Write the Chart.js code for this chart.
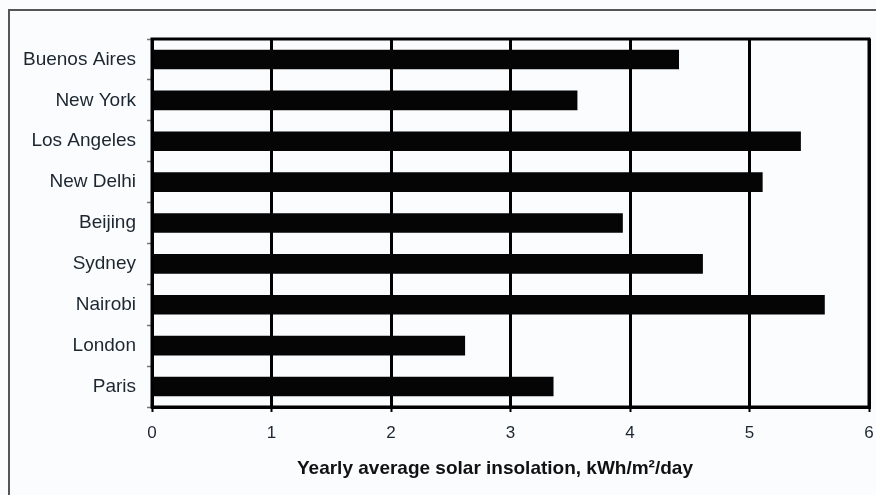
<!DOCTYPE html>
<html>
<head>
<meta charset="utf-8">
<script src="https://cdn.jsdelivr.net/npm/chart.js@4"></script>
<style>
  html, body { margin: 0; padding: 0; background: #fbfcfe; }
  #wrap { position: relative; width: 876px; height: 495px; }
  #frame { position: absolute; left: 8px; top: 9px; width: 900px; height: 600px; border-left: 2px solid #555; border-top: 2px solid #555; box-sizing: border-box; }
  canvas { position: absolute; left: 0; top: 0; }
</style>
</head>
<body>
<div id="wrap">
  <div id="frame"></div>
  <canvas id="c" width="876" height="495"></canvas>
</div>
<script>
const cities = ["Buenos Aires", "New York", "Los Angeles", "New Delhi", "Beijing", "Sydney", "Nairobi", "London", "Paris"];
const insolation = [4.41, 3.56, 5.43, 5.11, 3.94, 4.61, 5.63, 2.62, 3.36];
const xMin = 0;
const xMax = 6;
const xTitle = "Yearly average solar insolation, kWh/m\u00B2/day";

const FONT = 'Liberation Sans, Arial, sans-serif';

const frameBorder = {
  id: 'frameBorder',
  afterDatasetsDraw(chart) {
    const {ctx, chartArea: a} = chart;
    ctx.save();
    ctx.strokeStyle = '#000';
    ctx.lineWidth = 3;
    ctx.strokeRect(a.left, a.top, a.right - a.left, a.bottom - a.top);
    ctx.restore();
  }
};

const axisTitle = {
  id: 'axisTitle',
  afterDraw(chart) {
    const {ctx} = chart;
    const xs = chart.scales.x;
    ctx.save();
    ctx.font = 'bold 19px ' + FONT;
    ctx.fillStyle = '#111';
    ctx.textAlign = 'center';
    ctx.textBaseline = 'middle';
    ctx.fillText(xTitle, xs.getPixelForValue(2.87), xs.bottom - 10);
    ctx.restore();
  }
};

new Chart(document.getElementById('c'), {
  type: 'bar',
  data: {
    labels: cities,
    datasets: [{
      data: insolation,
      backgroundColor: '#050505',
      borderWidth: 0,
      barPercentage: 0.48,
      categoryPercentage: 1.0
    }]
  },
  options: {
    indexAxis: 'y',
    responsive: false,
    animation: false,
    devicePixelRatio: 1,
    layout: { padding: { left: 0, right: 7, top: 39, bottom: 16 } },
    plugins: { legend: { display: false }, tooltip: { enabled: false } },
    scales: {
      x: {
        min: xMin, max: xMax,
        ticks: { stepSize: 1, color: '#1c2630', padding: 11, font: { family: FONT, size: 17 } },
        grid: { color: '#000', lineWidth: 3, drawTicks: true, tickLength: 5, tickColor: '#000', tickWidth: 2 },
        border: { display: true, color: '#000', width: 3 },
        title: { display: false },
        afterFit(s) { s.height = 72; s.paddingRight = 0; s.paddingLeft = 0; }
      },
      y: {
        ticks: { color: '#1c2630', padding: 11, font: { family: FONT, size: 19 } },
        grid: { drawOnChartArea: false, drawTicks: true, tickLength: 5, tickColor: '#777', tickWidth: 1.5, offset: true },
        border: { display: true, color: '#000', width: 3 },
        afterFit(s) { s.width = 152; s.paddingTop = 0; s.paddingBottom = 0; }
      }
    }
  },
  plugins: [frameBorder, axisTitle]
});
</script>
</body>
</html>
